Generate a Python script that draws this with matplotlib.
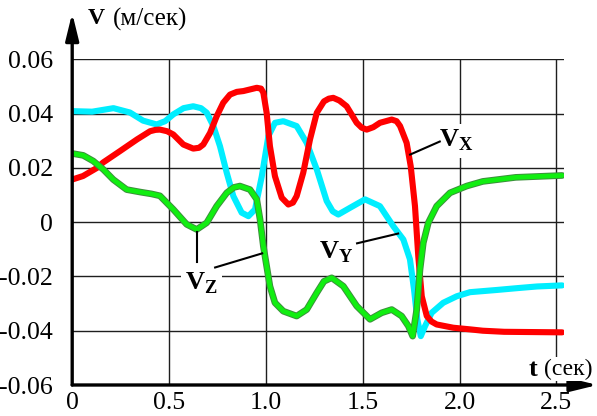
import matplotlib
matplotlib.use("Agg")
import matplotlib.pyplot as plt
import matplotlib.patheffects as pe

plt.rcParams['font.family'] = 'serif'
plt.rcParams['font.serif'] = ['Liberation Serif', 'DejaVu Serif']
plt.rcParams['mathtext.fontset'] = 'custom'
plt.rcParams['mathtext.rm'] = 'Liberation Serif'
plt.rcParams['mathtext.bf'] = 'Liberation Serif:bold'

# V_X(t)
t_x = [0, 0.056, 0.128, 0.16, 0.247, 0.335, 0.402, 0.43, 0.453, 0.49, 0.522, 0.574, 0.625,
       0.655, 0.677, 0.712, 0.746, 0.780, 0.815, 0.85, 0.884, 0.953, 0.975, 0.987, 1.004,
       1.021, 1.047, 1.082, 1.116, 1.14, 1.159, 1.193, 1.228, 1.263, 1.300, 1.325, 1.348,
       1.38, 1.417, 1.469, 1.495, 1.521, 1.555, 1.589, 1.650, 1.675, 1.693, 1.727, 1.748,
       1.770, 1.787, 1.805, 1.831, 1.855, 1.882, 1.968, 2.054, 2.12, 2.23, 2.53]
v_x = [0.0157, 0.0170, 0.0200, 0.0220, 0.0262, 0.0305, 0.0335, 0.0340, 0.0341, 0.0335,
       0.0323, 0.0286, 0.0271, 0.0274, 0.0286, 0.0329, 0.0390, 0.0440, 0.0470, 0.0480,
       0.0483, 0.0495, 0.0492, 0.0477, 0.0403, 0.0280, 0.0169, 0.0090, 0.0065, 0.0072,
       0.0096, 0.0182, 0.0305, 0.0403, 0.0445, 0.0455, 0.0458, 0.0448, 0.0427, 0.0366,
       0.0348, 0.0341, 0.0350, 0.0366, 0.0378, 0.0372, 0.0354, 0.0292, 0.0206, 0.0059,
       -0.0125, -0.0273, -0.0346, -0.0366, -0.0377, -0.0389, -0.0395, -0.0400, -0.0404,
       -0.0406]

# V_Y(t)
t_y = [0, 0.103, 0.213, 0.298, 0.366, 0.436, 0.48, 0.522, 0.575, 0.625, 0.665, 0.695, 0.729,
       0.763, 0.798, 0.832, 0.875, 0.910, 0.944, 0.979, 1.013, 1.047, 1.090, 1.159, 1.211,
       1.263, 1.314, 1.345, 1.374, 1.435, 1.512, 1.589, 1.658, 1.710, 1.744, 1.765, 1.782,
       1.800, 1.822, 1.856, 1.916, 1.986, 2.054, 2.19, 2.30, 2.40, 2.53]
v_y = [0.0409, 0.0407, 0.0420, 0.0404, 0.0374, 0.0360, 0.0372, 0.0397, 0.0420, 0.0427,
       0.0420, 0.0403, 0.0354, 0.0280, 0.0182, 0.0096, 0.0035, 0.0022, 0.0047, 0.0169,
       0.0317, 0.0366, 0.0372, 0.0354, 0.0292, 0.0194, 0.0078, 0.0040, 0.0028, 0.0053,
       0.0084, 0.0059, -0.0015, -0.0064, -0.0137, -0.0248, -0.0358, -0.0420, -0.0383,
       -0.0334, -0.0297, -0.0273, -0.0258, -0.0250, -0.0243, -0.0237, -0.0233]

# V_Z(t)
t_z = [0, 0.057, 0.109, 0.161, 0.212, 0.281, 0.35, 0.41, 0.453, 0.522, 0.591, 0.643, 0.695,
       0.746, 0.798, 0.835, 0.866, 0.918, 0.953, 0.970, 0.987, 1.004, 1.021, 1.047, 1.090,
       1.159, 1.211, 1.263, 1.300, 1.340, 1.400, 1.469, 1.538, 1.598, 1.650, 1.701, 1.736,
       1.758, 1.779, 1.796, 1.813, 1.839, 1.882, 1.951, 2.037, 2.12, 2.29, 2.53]
v_z = [0.0253, 0.0246, 0.0225, 0.0194, 0.0157, 0.0120, 0.0111, 0.0104, 0.0097, 0.0047,
       -0.0008, -0.0027, -0.0002, 0.0059, 0.0108, 0.0128, 0.0133, 0.0120, 0.0084, 0.0010,
       -0.0088, -0.0162, -0.0236, -0.0297, -0.0328, -0.0346, -0.0322, -0.0260, -0.0218,
       -0.0205, -0.0236, -0.0309, -0.0358, -0.0334, -0.0322, -0.0346, -0.0383, -0.0420,
       -0.0322, -0.0174, -0.0076, -0.0002, 0.0059, 0.0108, 0.0133, 0.0150, 0.0165, 0.0172]

x_ticks = [0, 0.5, 1.0, 1.5, 2.0, 2.5]
x_labels = ['0', '0.5', '1.0', '1.5', '2.0', '2.5']
y_ticks = [-0.06, -0.04, -0.02, 0, 0.02, 0.04, 0.06]
y_labels = ['-0.06', '-0.04', '-0.02', '0', '0.02', '0.04', '0.06']

W, H = 597, 416
fig = plt.figure(figsize=(W / 100, H / 100), dpi=100)
ax = fig.add_axes([72.2 / W, 1 - 385 / H, (564.1 - 72.2) / W, (385 - 59.3) / H])
ax.set_xlim(0, 2.54)
ax.set_ylim(-0.06, 0.06)

for s in ax.spines.values():
    s.set_visible(False)

# grid
grid_kw = dict(color='#1e1e1e', lw=1.0, zorder=1)
for yv in y_ticks[1:]:
    ax.axhline(yv, **grid_kw)
for xv in x_ticks[1:]:
    ax.axvline(xv, **grid_kw)

ax.set_xticks(x_ticks)
ax.set_xticklabels(x_labels)
ax.set_yticks(y_ticks)
ax.set_yticklabels(y_labels)
ax.tick_params(axis='both', length=0, labelsize=18.5)
ax.tick_params(axis='y', pad=14)
ax.tick_params(axis='x', pad=5)

# curves
line_kw = dict(lw=4.4, solid_capstyle='round', solid_joinstyle='round')
ax.plot(t_y, v_y, color='#00eeff', zorder=3, **line_kw)
ax.plot(t_x, v_x, color='#ff0000', zorder=4, **line_kw)
ax.plot(t_z, v_z, color='#11ee11', zorder=5, lw=3.4, solid_capstyle='round',
        solid_joinstyle='round',
        path_effects=[pe.Stroke(linewidth=4.8, foreground='#3c8f3c'), pe.Normal()])

# axis lines with arrows
arrow = dict(arrowstyle='-|>,head_length=0.9,head_width=0.22', color='black', lw=2.4,
             mutation_scale=18, shrinkA=0, shrinkB=0)
ax.annotate('', xy=(0, 1.142), xytext=(0, 0), xycoords='axes fraction',
            textcoords='axes fraction', arrowprops=arrow, zorder=10, annotation_clip=False)
ax.annotate('', xy=(1.068, 0), xytext=(0, 0), xycoords='axes fraction',
            textcoords='axes fraction', arrowprops=arrow, zorder=10, annotation_clip=False)

# leader lines and curve labels
lead_kw = dict(color='black', lw=1.5, zorder=7)
ax.plot([1.745, 1.898], [0.0249, 0.0297], **lead_kw)
ax.plot([0.645, 0.645], [-0.0038, -0.0145], **lead_kw)
ax.plot([0.738, 0.981], [-0.0167, -0.0115], **lead_kw)
ax.plot([1.471, 1.683], [-0.0078, -0.0042], **lead_kw)

box = dict(facecolor='white', edgecolor='none', pad=3)
ax.text(1.895, 0.0300, r'$\mathbf{V}_\mathbf{X}$', fontsize=19, ha='left', va='center',
        bbox=box, zorder=6)
ax.text(0.585, -0.0225, r'$\mathbf{V}_\mathbf{Z}$', fontsize=19, ha='left', va='center',
        bbox=box, zorder=6)
ax.text(1.275, -0.0110, r'$\mathbf{V}_\mathbf{Y}$', fontsize=19, ha='left', va='center',
        bbox=box, zorder=6)

# axis titles
fig.text(88 / W, 1 - 19 / H, 'V', fontsize=17, fontweight='bold', ha='left', va='center')
fig.text(113 / W, 1 - 19 / H, '(м/сек)', fontsize=18, ha='left', va='center')
fig.text(529 / W, 1 - 369 / H, 't', fontsize=19, fontweight='bold', ha='left', va='center',
         bbox=dict(facecolor='white', edgecolor='none', pad=1))
fig.text(544 / W, 1 - 369 / H, '(сек)', fontsize=17, ha='left', va='center',
         bbox=dict(facecolor='white', edgecolor='none', pad=1))

fig.savefig('out.png', dpi=100)
